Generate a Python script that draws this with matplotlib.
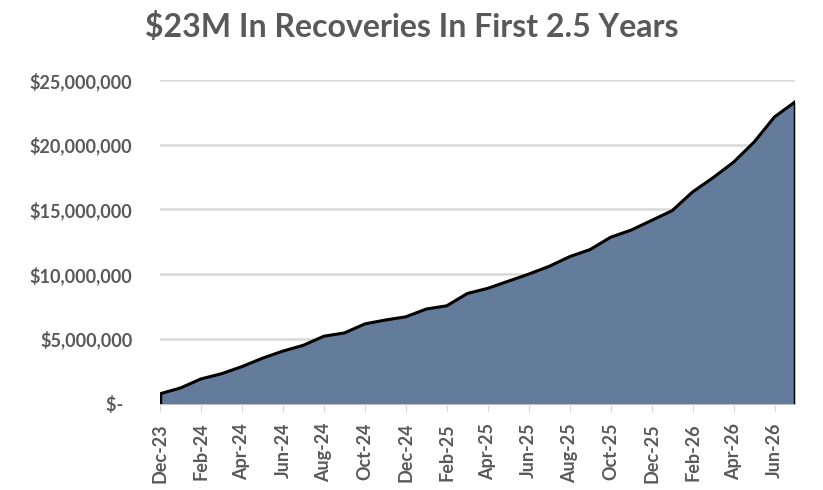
import matplotlib
matplotlib.use("Agg")
from matplotlib import pyplot as plt
from matplotlib.ticker import FuncFormatter
import numpy as np

# monthly cumulative recoveries, Dec-23 .. Jul-26
months = ['Dec-23', 'Jan-24', 'Feb-24', 'Mar-24', 'Apr-24', 'May-24', 'Jun-24',
          'Jul-24', 'Aug-24', 'Sep-24', 'Oct-24', 'Nov-24', 'Dec-24', 'Jan-25',
          'Feb-25', 'Mar-25', 'Apr-25', 'May-25', 'Jun-25', 'Jul-25', 'Aug-25',
          'Sep-25', 'Oct-25', 'Nov-25', 'Dec-25', 'Jan-26', 'Feb-26', 'Mar-26',
          'Apr-26', 'May-26', 'Jun-26', 'Jul-26']
recoveries = [0.75, 1.2, 1.9, 2.3, 2.85, 3.5, 4.05, 4.5, 5.2, 5.45, 6.15,
              6.45, 6.7, 7.3, 7.55, 8.5, 8.9, 9.45, 10.0, 10.6, 11.35,
              11.9, 12.85, 13.4, 14.15, 14.9, 16.35, 17.45, 18.65, 20.2,
              22.15, 23.3]
recoveries = [v * 1e6 for v in recoveries]

gray = '#595959'
fill = '#647C9C'

fig = plt.figure(figsize=(8.23, 4.9), dpi=100)
ax = fig.add_axes([160 / 823, 1 - 403.5 / 490, 635 / 823, 323.5 / 490])

x = np.arange(len(months))
ax.fill_between(x, 0, recoveries, color=fill, lw=0, zorder=2)
ax.plot(x, recoveries, color='black', lw=2.2, zorder=3, solid_joinstyle='round')
ax.plot([x[0], x[0]], [0, recoveries[0]], color='black', lw=2.5, zorder=3)
ax.plot([x[-1], x[-1]], [0, recoveries[-1]], color='black', lw=2.5, zorder=3)

ax.set_xlim(0, len(months) - 1)
ax.set_ylim(0, 25e6)
ax.set_yticks(np.arange(0, 25e6 + 1, 5e6))
ax.yaxis.set_major_formatter(FuncFormatter(
    lambda v, p: '$-  ' if v == 0 else f'${v:,.0f}'))
ax.set_xticks(x[::2])
ax.set_xticklabels(months[::2], rotation=90)

ax.grid(axis='y', color='#D9D9D9', lw=1.8, zorder=0)
for s in ['top', 'right', 'left']:
    ax.spines[s].set_visible(False)
ax.spines['bottom'].set_color('#BFBFBF')
ax.spines['bottom'].set_zorder(1)

ax.tick_params(axis='y', length=0, pad=20, labelsize=13, labelcolor=gray)
ax.tick_params(axis='x', length=6, color='#D9D9D9', pad=8, labelsize=13,
               labelcolor=gray)
for lab in ax.get_xticklabels() + ax.get_yticklabels():
    lab.set_fontfamily('Lato')
    lab.set_fontweight('bold')

fig.text(0.5, 1 - 27 / 490, '$23M In Recoveries In First 2.5 Years',
         ha='center', va='center', fontsize=23, color=gray,
         fontfamily='Lato', fontweight='bold')

fig.savefig('out.png', dpi=100)
